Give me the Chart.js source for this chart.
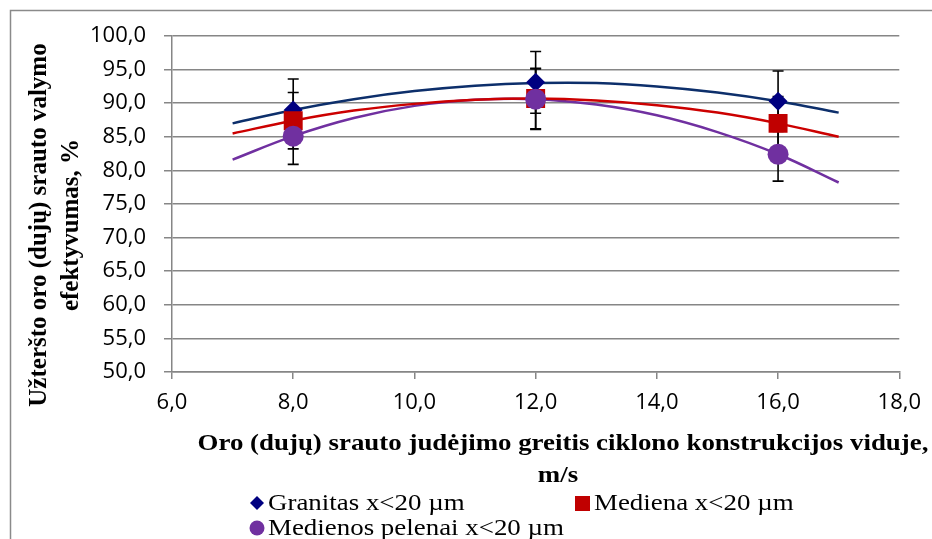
<!DOCTYPE html>
<html>
<head>
<meta charset="utf-8">
<script src="https://cdn.jsdelivr.net/npm/chart.js@4.4.0/dist/chart.umd.min.js"></script>
<style>
  html, body { margin: 0; padding: 0; background: #fff; }
  #wrap { width: 932px; height: 539px; position: relative; }
</style>
</head>
<body>
<div id="wrap"><canvas id="chart" width="932" height="539"></canvas></div>
<script>
// measured points (m/s -> efficiency %)
const speeds = [8, 12, 16];
const granitas = [89.0, 93.1, 90.3];
const mediena = [87.4, 90.7, 87.0];
const pelenai = [85.1, 90.6, 82.4];

// +/- error bar sizes
const granitasErr = [4.6, 4.6, 4.5];
const medienaErr = [4.2, 4.5, 4.0];
const pelenaiErr = [4.2, 4.5, 4.0];

// trendlines
const trendSpeeds = [7, 8, 9, 10, 11, 12, 13, 14, 15, 16, 17];
const granitasTrend = [87.0, 89.0, 90.6, 91.8, 92.6, 93.0, 93.0, 92.5, 91.6, 90.3, 88.6];
const medienaTrend = [85.5, 87.4, 88.9, 89.9, 90.5, 90.7, 90.4, 89.7, 88.6, 87.0, 85.0];
const pelenaiTrend = [81.6, 85.1, 87.8, 89.6, 90.5, 90.6, 89.8, 88.2, 85.7, 82.4, 78.2];

const seriesNames = ['Granitas x<20 µm', 'Mediena x<20 µm', 'Medienos pelenai x<20 µm'];
const xTitle = ['Oro (dujų) srauto judėjimo greitis ciklono konstrukcijos viduje,', 'm/s'];
const yTitle = ['Užteršto oro (dujų) srauto valymo', 'efektyvumas, %'];

const GRID = '#868686';
const TICK_FONT = { family: '"Open Sans", sans-serif', size: 22 };
const SERIF = '"Liberation Serif", "Times New Roman", serif';

const colors = {
    granitas: { mark: '#000080', line: '#0d2f6b' },
    mediena: { mark: '#c00000', line: '#cc0000' },
    pelenai: { mark: '#7030a0', line: '#7030a0' },
};

const toPoints = (xs, ys) => xs.map((x, i) => ({ x, y: ys[i] }));
const fmt = (v) => Number(v).toFixed(1).replace('.', ',');

function trendDataset(ys, color, order) {
    return {
        type: 'line',
        data: toPoints(trendSpeeds, ys),
        borderColor: color,
        borderWidth: 2.5,
        pointRadius: 0,
        fill: false,
        tension: 0.4,
        order,
    };
}

const errorSets = [
    { values: granitas, errs: granitasErr },
    { values: mediena, errs: medienaErr },
    { values: pelenai, errs: pelenaiErr },
];

// wide text, the reference is stretched sideways a bit
function wideText(ctx, text, x, y, sx) {
    ctx.save();
    ctx.translate(x, y);
    ctx.scale(sx, 1);
    ctx.fillText(text, 0, 0);
    ctx.restore();
}

const decorations = {
    id: 'decorations',
    beforeDatasetsDraw(chart) {
        const ctx = chart.ctx;
        const xs = chart.scales.x;
        const ys = chart.scales.y;
        ctx.save();
        ctx.strokeStyle = '#000';
        ctx.lineWidth = 1.6;
        errorSets.forEach((set) => {
            set.values.forEach((v, i) => {
                const px = xs.getPixelForValue(speeds[i]);
                const top = ys.getPixelForValue(v + set.errs[i]);
                const bot = ys.getPixelForValue(v - set.errs[i]);
                ctx.beginPath();
                ctx.moveTo(px, top);
                ctx.lineTo(px, bot);
                ctx.moveTo(px - 5.5, top);
                ctx.lineTo(px + 5.5, top);
                ctx.moveTo(px - 5.5, bot);
                ctx.lineTo(px + 5.5, bot);
                ctx.stroke();
            });
        });
        ctx.restore();
    },
    afterDraw(chart) {
        const ctx = chart.ctx;
        ctx.save();

        // outer frame
        ctx.strokeStyle = '#8a8a8a';
        ctx.lineWidth = 1.5;
        ctx.strokeRect(10.5, 10.5, 1000, 1000);

        // axis titles
        ctx.fillStyle = '#000';
        ctx.font = 'bold 24px ' + SERIF;
        ctx.textAlign = 'center';
        ctx.textBaseline = 'middle';
        wideText(ctx, xTitle[0], 563, 444, 1.12);
        wideText(ctx, xTitle[1], 558, 476, 1.12);

        ctx.font = 'bold 25px ' + SERIF;
        ctx.save();
        ctx.translate(40, 225);
        ctx.rotate(-Math.PI / 2);
        ctx.fillText(yTitle[0], 0, 0);
        ctx.restore();
        ctx.save();
        ctx.translate(72, 225);
        ctx.rotate(-Math.PI / 2);
        ctx.fillText(yTitle[1], 0, 0);
        ctx.restore();

        // legend
        ctx.font = '23px ' + SERIF;
        ctx.textAlign = 'left';
        ctx.textBaseline = 'middle';

        ctx.fillStyle = colors.granitas.mark;
        ctx.beginPath();
        ctx.moveTo(257, 496);
        ctx.lineTo(264, 503);
        ctx.lineTo(257, 510);
        ctx.lineTo(250, 503);
        ctx.closePath();
        ctx.fill();
        ctx.fillStyle = '#000';
        wideText(ctx, seriesNames[0], 268, 504, 1.17);

        ctx.fillStyle = colors.mediena.mark;
        ctx.fillRect(575, 496, 15, 15);
        ctx.fillStyle = '#000';
        wideText(ctx, seriesNames[1], 594, 504, 1.17);

        ctx.fillStyle = colors.pelenai.mark;
        ctx.beginPath();
        ctx.arc(257, 528, 7.5, 0, Math.PI * 2);
        ctx.fill();
        ctx.fillStyle = '#000';
        wideText(ctx, seriesNames[2], 268, 529, 1.17);

        ctx.restore();
    },
};

new Chart(document.getElementById('chart'), {
    type: 'scatter',
    data: {
        datasets: [
            {
                label: seriesNames[2],
                data: toPoints(speeds, pelenai),
                pointStyle: 'circle',
                pointRadius: 10.5,
                backgroundColor: colors.pelenai.mark,
                borderColor: colors.pelenai.mark,
                borderWidth: 0,
                order: 0,
            },
            {
                label: seriesNames[1],
                data: toPoints(speeds, mediena),
                pointStyle: 'rect',
                pointRadius: 13.4,
                backgroundColor: colors.mediena.mark,
                borderColor: colors.mediena.mark,
                borderWidth: 0,
                order: 1,
            },
            {
                label: seriesNames[0],
                data: toPoints(speeds, granitas),
                pointStyle: 'rectRot',
                pointRadius: 9.5,
                backgroundColor: colors.granitas.mark,
                borderColor: colors.granitas.mark,
                borderWidth: 0,
                order: 2,
            },
            trendDataset(granitasTrend, colors.granitas.line, 3),
            trendDataset(medienaTrend, colors.mediena.line, 4),
            trendDataset(pelenaiTrend, colors.pelenai.line, 5),
        ],
    },
    options: {
        responsive: false,
        animation: false,
        events: [],
        layout: { padding: { left: 0, right: 29, top: 36, bottom: 0 } },
        plugins: {
            legend: { display: false },
            tooltip: { enabled: false },
        },
        scales: {
            x: {
                type: 'linear',
                min: 6,
                max: 18,
                ticks: { stepSize: 2, color: '#000', font: TICK_FONT, padding: 11, callback: fmt },
                grid: { drawOnChartArea: false, drawTicks: true, tickLength: 7, color: GRID, lineWidth: 1.5 },
                border: { color: GRID, width: 1.5 },
                afterFit(scale) { scale.height = 167; },
            },
            y: {
                min: 50,
                max: 100,
                ticks: { stepSize: 5, color: '#000', font: TICK_FONT, padding: 18, callback: fmt },
                grid: { color: GRID, lineWidth: 1.5, tickLength: 8 },
                border: { color: GRID, width: 1.5 },
                afterFit(scale) { scale.width = 172; },
            },
        },
    },
    plugins: [decorations],
});
</script>
</body>
</html>
